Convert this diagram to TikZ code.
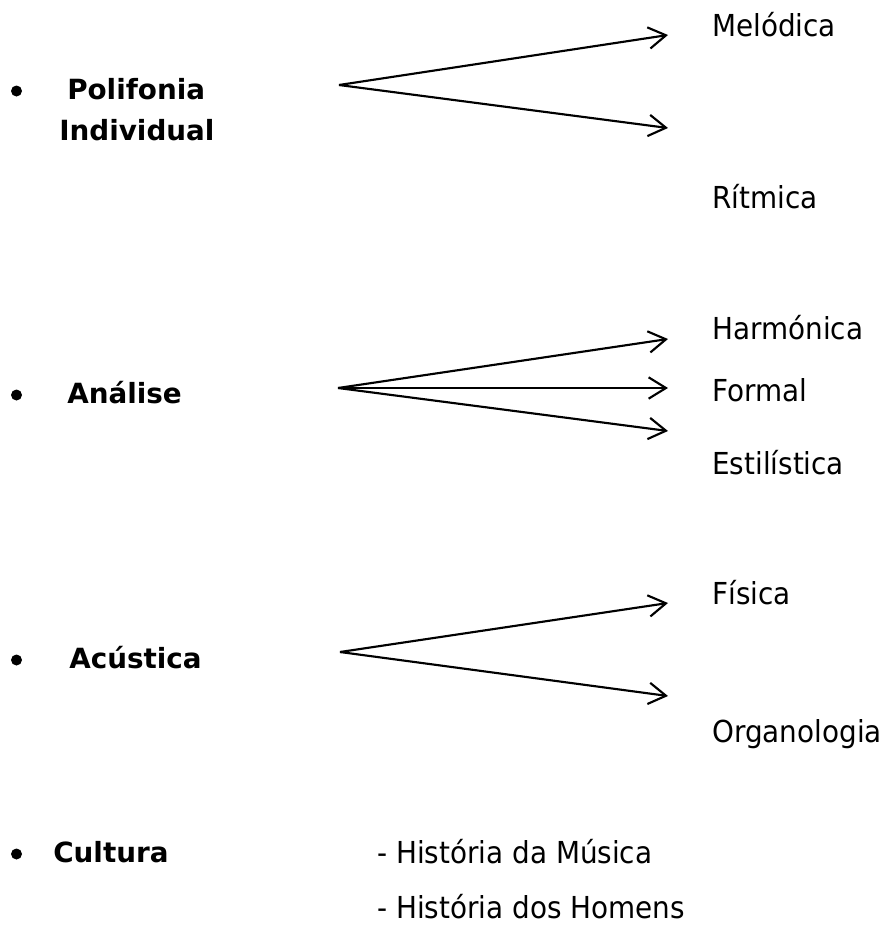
\documentclass[tikz,border=0pt]{standalone}
\usepackage{fontspec}
\setmainfont{DejaVu Sans}
\newfontfamily\regf{DejaVu Sans}[FakeStretch=0.92]
\newfontfamily\headf{DejaVu Sans}
\usetikzlibrary{arrows.meta}
\begin{document}
\begin{tikzpicture}[x=0.75pt,y=-0.75pt,
  reg/.style={font=\regf\fontsize{22.7}{27}\selectfont, anchor=base west, inner sep=0pt},
  head/.style={font=\headf\bfseries\fontsize{20.85}{25}\selectfont, anchor=base west, inner sep=0pt},
  bul/.style={circle, fill=black, inner sep=0pt, minimum size=8.25pt},
  link/.style={line width=1.6pt, -{Straight Barb[length=13pt,width=16pt,line width=1.6pt]}}]
\useasboundingbox (0,0) rectangle (885,933);
\fill[white] (0,0) rectangle (885,933);
% Polifonia Individual
\node[bul] (b1) at (16.5,91) {};
\node[head] (polif) at (67,99) {Polifonia};
\node[head] (indiv) at (59,140) {Individual};
\coordinate (p1) at (339,85);
\coordinate (t11) at (668,35);
\coordinate (t12) at (668,128);
\node[reg] (melod) at (712,36) {Melódica};
\node[reg] (ritm) at (712,208) {Rítmica};
\draw[link] (p1) -- (t11);
\draw[link] (p1) -- (t12);
% Analise
\node[bul] (b2) at (16.5,395) {};
\node[head] (anal) at (67,403) {Análise};
\coordinate (p2) at (338,388);
\coordinate (t21) at (668,339);
\coordinate (t22) at (668,388);
\coordinate (t23) at (668,431);
\node[reg] (harm) at (712,339) {Harmónica};
\node[reg] (form) at (712,401) {Formal};
\node[reg] (estil) at (712,474) {Estilística};
\draw[link] (p2) -- (t21);
\draw[link] (p2) -- (t22);
\draw[link] (p2) -- (t23);
% Acustica
\node[bul] (b3) at (16.5,660) {};
\node[head] (acus) at (69,668) {Acústica};
\coordinate (p3) at (340,652);
\coordinate (t31) at (668,603);
\coordinate (t32) at (668,696);
\node[reg] (fis) at (712,604) {Física};
\node[reg] (organ) at (712,742) {Organologia};
\draw[link] (p3) -- (t31);
\draw[link] (p3) -- (t32);
% Cultura
\node[bul] (b4) at (16.5,854) {};
\node[head] (cult) at (53,862) {Cultura};
\node[reg] (hmus) at (377,863) {- História da Música};
\node[reg] (hhom) at (377,918) {- História dos Homens};
\end{tikzpicture}
\end{document}
